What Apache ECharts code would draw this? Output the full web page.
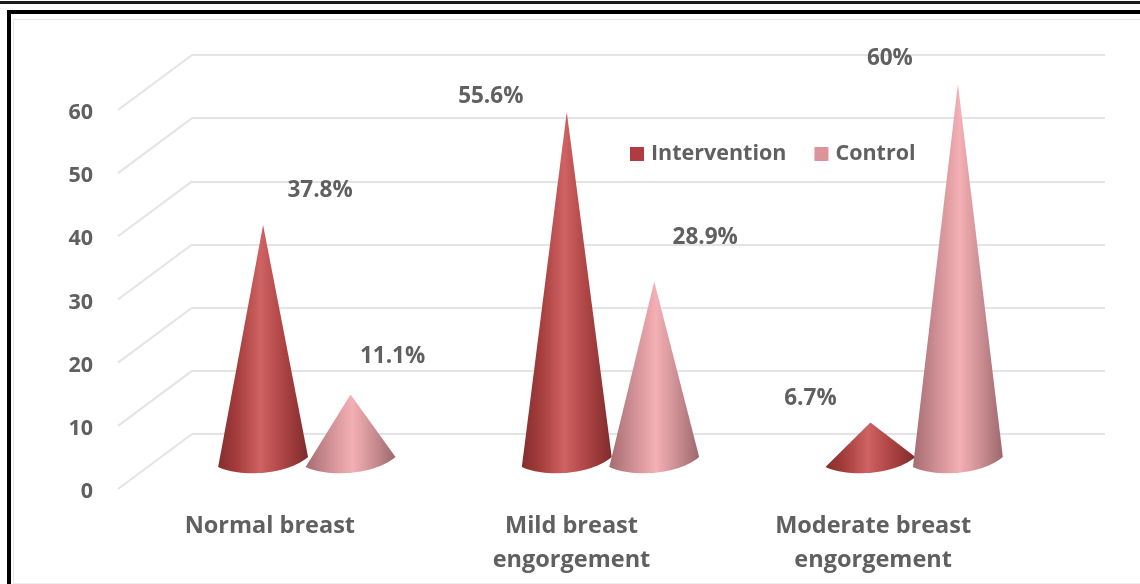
<!DOCTYPE html>
<html><head><meta charset="utf-8">
<style>html,body{margin:0;padding:0;background:#fff;overflow:hidden}#c{width:1140px;height:584px;filter:blur(0.55px)}</style>
<script src="https://cdn.jsdelivr.net/npm/echarts@6/dist/echarts.min.js"></script>
</head><body><div id="c"></div>
<script>
const categories = ['Normal breast', 'Mild breast\nengorgement', 'Moderate breast\nengorgement'];
const intervention = [37.8, 55.6, 6.7];
const control = [11.1, 28.9, 60];
const tickValues = [0, 10, 20, 30, 40, 50, 60];

const FONT = '"Open Sans", Lato, sans-serif';
const TXT = '#606060';
const GRIDC = '#e4e4e4';
const RISE = 8.7; // depth of the floor, in axis units

function grad(stops){
  return new echarts.graphic.LinearGradient(0,0,1,0,stops.map((c,i)=>({offset:c[0],color:c[1]})));
}
const gradI = [[0,'#842d2d'],[0.2,'#a43c3c'],[0.47,'#cf6262'],[0.72,'#ae4444'],[1,'#7f2b2b']];
const gradC = [[0,'#a56c70'],[0.25,'#cd8d92'],[0.52,'#f4b0b4'],[0.75,'#cc8f93'],[1,'#9c686c']];
const labelOffsets = {
  Intervention: [[57,-34],[-76,-15],[-60,-24]],
  Control: [[42,-38],[51,-44],[-68,-25]]
};

function coneSeries(name, values, solid, stops, sign){
  return {
    name, type:'custom', xAxisIndex:2, yAxisIndex:2, itemStyle:{color:solid},
    data: values.map((v,i)=>[i,v]),
    encode:{x:0,y:1}, clip:false, silent:true,
    renderItem(params, api){
      const i = api.value(0), v = api.value(1);
      const c = api.coord([i,0]), top = api.coord([i,v]);
      const band = api.size([1,0])[0];
      const cx = c[0] + sign*band*0.144, half = band*0.148, y0 = c[1];
      const L=[cx-half,y0+2], R=[cx+half,y0-8];
      const c1=[cx-half*0.55,y0+12], c2=[cx+half*0.5,y0+11];
      const pts=[[cx,top[1]]];
      for(let k=0;k<=28;k++){
        const t=k/28,u=1-t;
        pts.push([u*u*u*L[0]+3*u*u*t*c1[0]+3*u*t*t*c2[0]+t*t*t*R[0],
                  u*u*u*L[1]+3*u*u*t*c1[1]+3*u*t*t*c2[1]+t*t*t*R[1]]);
      }
      const off = labelOffsets[name][i];
      return {type:'group',children:[
        {type:'polygon',shape:{points:pts},style:{fill:grad(stops)}},
        {type:'text',style:{x:cx+off[0],y:top[1]+off[1],text:v+'%',fill:TXT,
          font:'700 22.5px '+FONT,align:'center',verticalAlign:'middle'}}
      ]};
    }
  };
}

const floorSeries = {
  type:'custom', xAxisIndex:0, yAxisIndex:0, silent:true, clip:false,
  data: tickValues.map(v=>[v]), encode:{y:0},
  renderItem(params, api){
    const v=api.value(0), a=api.coord([0,v]), b=api.coord([1,v+RISE]);
    return {type:'line',shape:{x1:a[0],y1:a[1],x2:b[0],y2:b[1]},style:{stroke:GRIDC,lineWidth:2}};
  }
};

const chart = echarts.init(document.getElementById('c'),null,{renderer:'canvas'});
chart.setOption({
  animation:false, backgroundColor:'#fff',
  grid:[
    {left:118,width:74,top:55,height:434},
    {left:192,width:913,top:55,height:379},
    {left:155,width:911,top:84,height:381},
    {left:119,width:905,top:58,height:434}
  ],
  xAxis:[
    {gridIndex:0,type:'value',min:0,max:1,show:false},
    {gridIndex:1,type:'value',min:0,max:1,show:false},
    {gridIndex:2,type:'category',data:[0,1,2],show:false},
    {gridIndex:3,type:'category',data:categories,
     axisLine:{show:false},axisTick:{show:false},
     axisLabel:{margin:17,interval:0,color:TXT,fontFamily:FONT,fontWeight:700,fontSize:23.5,lineHeight:34,verticalAlign:'top'}}
  ],
  yAxis:[
    {gridIndex:0,type:'value',min:0,max:60+RISE,show:false,splitLine:{show:false}},
    {gridIndex:1,type:'value',min:0,max:60,interval:10,
     axisLine:{show:false},axisTick:{show:false},axisLabel:{show:false},
     splitLine:{show:true,lineStyle:{color:GRIDC,width:2}}},
    {gridIndex:2,type:'value',min:0,max:60,show:false,splitLine:{show:false}},
    {gridIndex:3,type:'value',min:0,max:60+RISE,interval:10,splitLine:{show:false},
     axisLine:{show:false},axisTick:{show:false},
     axisLabel:{margin:26,color:TXT,fontFamily:FONT,fontWeight:700,fontSize:21.5,showMaxLabel:false}}
  ],
  legend:{left:625,top:138,itemWidth:14,itemHeight:14,itemGap:28,icon:'rect',
    data:['Intervention','Control'],selectedMode:false,
    textStyle:{color:TXT,fontFamily:FONT,fontWeight:700,fontSize:21.5,padding:[0,0,0,2]}},
  series:[
    floorSeries,
    coneSeries('Intervention',intervention,'#b03c42',gradI,-1),
    coneSeries('Control',control,'#dc949a',gradC,1)
  ],
  graphic:[
    {type:'rect',silent:true,shape:{x:0,y:1,width:1140,height:3},style:{fill:'#1c1c1c'}},
    {type:'rect',silent:true,shape:{x:7,y:10,width:1133,height:4},style:{fill:'#000'}},
    {type:'rect',silent:true,shape:{x:7,y:10,width:4,height:574},style:{fill:'#000'}},
    {type:'rect',silent:true,shape:{x:13,y:19,width:1127,height:1},style:{fill:'#e6e6e6'}},
    {type:'rect',silent:true,shape:{x:13,y:19,width:1,height:565},style:{fill:'#e6e6e6'}},
    {type:'rect',silent:true,shape:{x:13,y:583,width:1127,height:1},style:{fill:'#ececec'}}
  ]
});
</script></body></html>
